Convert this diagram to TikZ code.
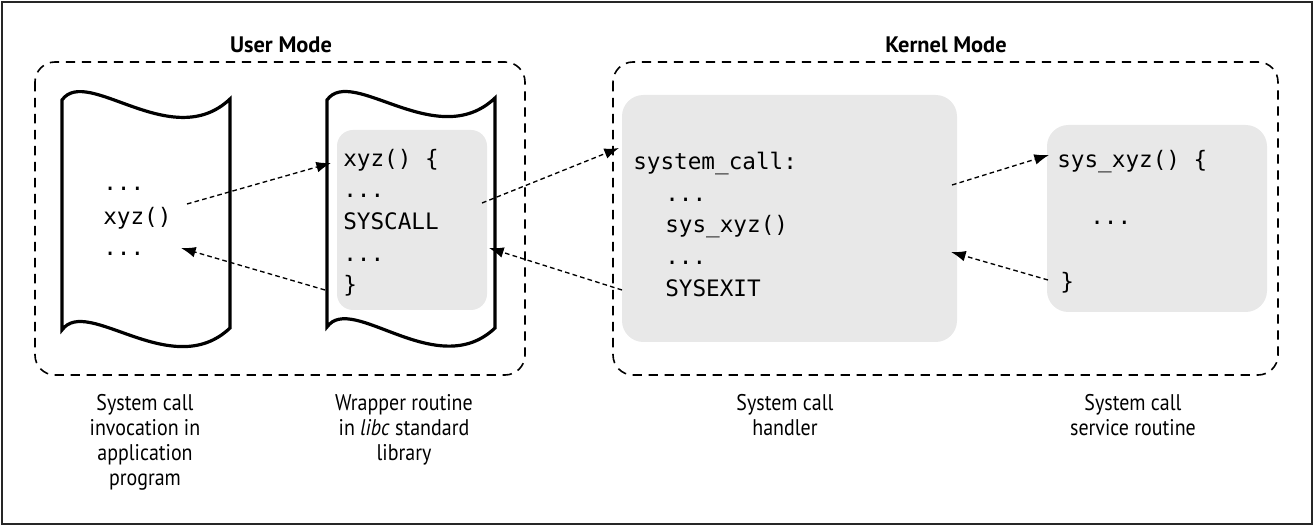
\documentclass[tikz,border=0pt]{standalone}
\usepackage{fontspec}
\setmainfont{PT Sans}
\setmonofont{DejaVu Sans Mono}
\newfontfamily\capfont{PT Sans}[FakeStretch=0.88]
\usetikzlibrary{arrows.meta,fit}
\definecolor{codegray}{HTML}{E8E8E8}
\tikzset{
  modebox/.style={draw, line width=1.2pt, dash pattern=on 7pt off 5pt, rounded corners=15pt},
  page/.style={draw, line width=2.4pt, fill=white},
  codebox/.style={fill=codegray, rounded corners=12pt, inner sep=0pt},
  code/.style={font=\ttfamily\fontsize{17}{20}\selectfont, anchor=base west, inner sep=0pt},
  caption/.style={font=\capfont\fontsize{17}{18.75}\selectfont, align=center, anchor=north, inner sep=0pt},
  title/.style={font=\bfseries\fontsize{16.8}{20}\selectfont},
  call/.style={-{Latex[length=11pt,width=8pt]}, line width=1pt, dash pattern=on 3.5pt off 2.4pt},
}

\begin{document}
\begin{tikzpicture}[x=0.75pt,y=-0.75pt]
\useasboundingbox (0,0) rectangle (1315,527);
\draw[line width=1.3pt, black!85] (2,2) rectangle (1312,524);

% user and kernel mode
\draw[modebox] (35,62) rectangle (525,375);
\draw[modebox] (613,62) rectangle (1278,375);
\node[title] (user) at (281,45) {User Mode};
\node[title] (kernel) at (946,45) {Kernel Mode};

% the two pages
\draw[page] (62,100) .. controls +(25,-35) and +(-58,55) .. (230,99) -- (230,328)
  .. controls +(-58,55) and +(25,-35) .. (62,330) -- cycle;
\draw[page] (327,100) .. controls +(25,-35) and +(-58,55) .. (495,98) -- (495,328)
  .. controls +(-58,55) and +(25,-35) .. (327,327) -- cycle;

% grey code boxes
\node[codebox, fit={(337,130) (487,310)}] (wrap) {};
\node[codebox, rounded corners=16pt, fit={(622,95) (957,342)}] (handler) {};
\node[codebox, rounded corners=16pt, fit={(1047,125) (1267,312)}] (service) {};

\node[code] (app1) at (103,191) {...};
\node[code] (app2) at (103,225) {xyz()};
\node[code] (app3) at (103,256) {...};

\node[code] (wrap1) at (343,167) {xyz() \{};
\node[code] (wrap2) at (343,198) {...};
\node[code] (wrap3) at (343,230) {SYSCALL};
\node[code] (wrap4) at (343,262) {...};
\node[code] (wrap5) at (343,293) {\}};

\node[code] (hand1) at (633,170) {system\_call:};
\node[code] (hand2) at (665,202) {...};
\node[code] (hand3) at (665,233) {sys\_xyz()};
\node[code] (hand4) at (665,265) {...};
\node[code] (hand5) at (665,297) {SYSEXIT};

\node[code] (serv1) at (1057,168) {sys\_xyz() \{};
\node[code] (serv2) at (1090,225) {...};
\node[code] (serv3) at (1060,290) {\}};

% captions
\node[caption] (capapp) at (145,394) {System call\\invocation in\\application\\program};
\node[caption] (capwrap) at (404,394) {Wrapper routine\\in \textit{libc} standard\\library};
\node[caption] (caphand) at (785,394) {System call\\handler};
\node[caption] (capserv) at (1133,394) {System call\\service routine};

% calls and returns
\coordinate (appout) at (187,204);
\coordinate (wrapin) at (331,163);
\coordinate (wrapback) at (325,290);
\coordinate (appin) at (181,248);
\coordinate (wrapout) at (482,203);
\coordinate (handin) at (619,148);
\coordinate (handback) at (622,290);
\coordinate (wrapret) at (489,248);
\coordinate (handout) at (952,185);
\coordinate (servin) at (1049,155);
\coordinate (servback) at (1048,280);
\coordinate (handret) at (951,252);

\draw[call] (appout) -- (wrapin);
\draw[call] (wrapback) -- (appin);
\draw[call] (wrapout) -- (handin);
\draw[call] (handback) -- (wrapret);
\draw[call] (handout) -- (servin);
\draw[call] (servback) -- (handret);

\end{tikzpicture}
\end{document}
